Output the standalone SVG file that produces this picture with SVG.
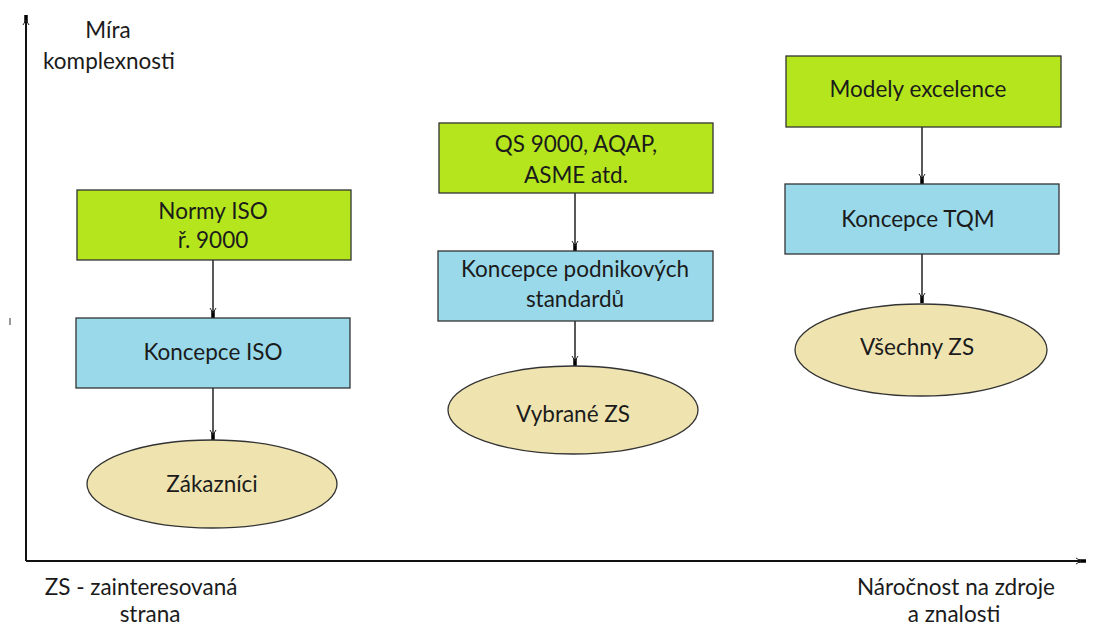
<svg xmlns="http://www.w3.org/2000/svg" width="1093" height="626" viewBox="0 0 1093 626">
<style>
.t{font-family:Lato,"Open Sans","Liberation Sans",sans-serif;font-size:22.5px;fill:#1b1b1b;text-anchor:middle}
.g{fill:#b5e61d;stroke:#333;stroke-width:1.3}
.b{fill:#99d9ea;stroke:#333;stroke-width:1.3}
.e{fill:#efe4b0;stroke:#333;stroke-width:1.3}
.c{stroke:#222;stroke-width:1.5;fill:none;marker-end:url(#ah)}
.ax{stroke:#111;stroke-width:2;fill:none}
</style>
<defs>
<marker id="ah" viewBox="0 0 12 8" refX="11" refY="4" markerWidth="12" markerHeight="8" markerUnits="userSpaceOnUse" orient="auto">
<path d="M4,4 L11,4" stroke="#000" stroke-width="3.5"/>
<path d="M1,1 L6,4 L1,7" fill="none" stroke="#222" stroke-width="1"/>
</marker>
</defs>
<rect width="1093" height="626" fill="#fff"/>
<g id="axes">
<line class="ax" x1="26" y1="561" x2="26" y2="15" style="marker-end:url(#ah)"/>
<line class="ax" x1="26" y1="561" x2="1086" y2="561" style="marker-end:url(#ah)"/>
<line x1="10" y1="318" x2="10" y2="325" stroke="#777" stroke-width="1.5"/>
<text class="t" x="108" y="38">Míra</text>
<text class="t" x="109" y="69">komplexnosti</text>
<text class="t" x="141" y="595">ZS - zainteresovaná</text>
<text class="t" x="150" y="622">strana</text>
<text class="t" x="956" y="595">Náročnost na zdroje</text>
<text class="t" x="954" y="622">a znalosti</text>
</g>
<g id="connectors">
<line class="c" x1="213" y1="260" x2="213" y2="318"/>
<line class="c" x1="213" y1="388" x2="213" y2="440"/>
<line class="c" x1="575" y1="193" x2="575" y2="251"/>
<line class="c" x1="575" y1="321" x2="575" y2="366"/>
<line class="c" x1="922" y1="127" x2="922" y2="184"/>
<line class="c" x1="922" y1="254" x2="922" y2="303"/>
</g>
<g id="normy-iso">
<rect class="g" x="77" y="190" width="274" height="70"/>
<text class="t" x="213" y="219">Normy ISO</text>
<text class="t" x="213" y="248">ř. 9000</text>
</g>
<g id="koncepce-iso">
<rect class="b" x="76" y="318" width="274" height="70"/>
<text class="t" x="213" y="360">Koncepce ISO</text>
</g>
<g id="zakaznici">
<ellipse class="e" cx="212" cy="484" rx="125" ry="44"/>
<text class="t" x="212" y="492">Zákazníci</text>
</g>
<g id="qs9000">
<rect class="g" x="439" y="123" width="274" height="70"/>
<text class="t" x="576" y="152">QS 9000, AQAP,</text>
<text class="t" x="576" y="183">ASME atd.</text>
</g>
<g id="koncepce-podnikovych">
<rect class="b" x="438" y="251" width="275" height="70"/>
<text class="t" x="575" y="277">Koncepce podnikových</text>
<text class="t" x="575" y="307">standardů</text>
</g>
<g id="vybrane-zs">
<ellipse class="e" cx="573" cy="410" rx="125" ry="44"/>
<text class="t" x="573" y="422">Vybrané ZS</text>
</g>
<g id="modely-excelence">
<rect class="g" x="786" y="56" width="275" height="71"/>
<text class="t" x="918" y="97">Modely excelence</text>
</g>
<g id="koncepce-tqm">
<rect class="b" x="785" y="184" width="274" height="70"/>
<text class="t" x="918" y="227">Koncepce TQM</text>
</g>
<g id="vsechny-zs">
<ellipse class="e" cx="921" cy="350" rx="126" ry="46"/>
<text class="t" x="917" y="355">Všechny ZS</text>
</g>
</svg>
